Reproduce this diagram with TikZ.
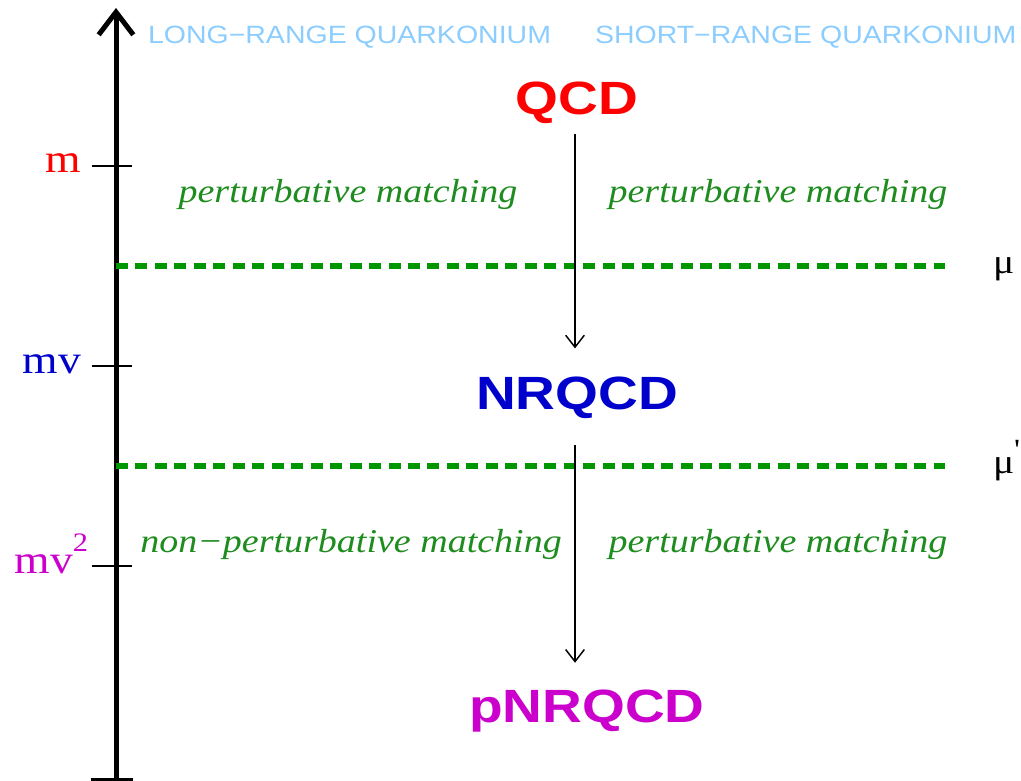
\documentclass[tikz,border=0pt]{standalone}
\usepackage{fontspec}
\usepackage{graphicx}
\setmainfont{Liberation Serif}
\newfontfamily\sansf{Liberation Sans}
\usetikzlibrary{arrows.meta}
\definecolor{hdr}{RGB}{140,205,255}
\definecolor{grn}{RGB}{0,150,0}
\definecolor{gtxt}{RGB}{30,140,30}
\definecolor{qred}{RGB}{255,0,0}
\definecolor{qblue}{RGB}{0,0,204}
\definecolor{qmag}{RGB}{204,0,204}
\newcommand{\wx}[1]{\scalebox{1.14}[1]{#1}}
\newcommand{\wy}[1]{\scalebox{1.18}[1]{#1}}
\begin{document}
\begin{tikzpicture}[x=0.75pt,y=-0.75pt,
  lbl/.style={inner sep=0pt, outer sep=0pt},
  header/.style={lbl, anchor=base west, text=hdr, font=\sansf\fontsize{18.75}{20}\selectfont},
  theory/.style={lbl, anchor=base, font=\sansf\bfseries\fontsize{35}{36}\selectfont},
  match/.style={lbl, anchor=base, text=gtxt, font=\itshape\fontsize{25}{27}\selectfont},
  scalelbl/.style={lbl, anchor=base east, font=\fontsize{30}{32}\selectfont},
  mulbl/.style={lbl, anchor=base west, font=\fontsize{26}{28}\selectfont},
  sepline/.style={grn, line width=4.5pt, dash pattern=on 9pt off 5.6pt},
  tickline/.style={line width=1.5pt},
  flow/.style={line width=1.1pt, -{Straight Barb[length=9pt,width=14pt]}}
]
\useasboundingbox (0,0) rectangle (1021,781);
% axis
\coordinate (axbot) at (116,779);
\coordinate (axtop) at (116,8);
\draw[line width=3.75pt, -{Straight Barb[length=17pt,width=26pt]}] (axbot) -- (axtop);
\draw[line width=2.25pt] (axbot) ++(-25,0) -- ++(42,0);
% ticks
\coordinate (t1) at (116,166);
\coordinate (t2) at (116,366);
\coordinate (t3) at (116,566);
\draw[tickline] (t1) ++(-24,0) -- ++(40,0);
\draw[tickline] (t2) ++(-24,0) -- ++(40,0);
\draw[tickline] (t3) ++(-24,0) -- ++(40,0);
% scale labels
\node[scalelbl, text=qred] (lm) at (81,173) {\wx{m}};
\node[scalelbl, text=qblue] (lmv) at (81,373) {\wx{mv}};
\node[scalelbl, text=qmag] (lmv2) at (88,573) {\wx{mv\raisebox{0.55em}{\fontsize{20}{20}\selectfont 2}}};
% headers
\node[header] (lr) at (148,44) {\wx{LONG−RANGE QUARKONIUM}};
\node[header] (sr) at (595,44) {\wx{SHORT−RANGE QUARKONIUM}};
% dashed separators
\coordinate (d1s) at (116,266);
\coordinate (d1e) at (945,266);
\coordinate (d2s) at (116,466);
\coordinate (d2e) at (945,466);
\draw[sepline] (d1s) -- (d1e);
\draw[sepline] (d2s) -- (d2e);
\node[mulbl] (mu) at (993,273) {\wx{μ}};
\node[mulbl] (mup) at (993,473) {\wx{μ\raisebox{0.38em}{\fontsize{22}{22}\selectfont\textquotesingle}}};
% theories
\node[theory, text=qred] (qcd) at (577,115) {\wy{QCD}};
\node[theory, text=qblue] (nrqcd) at (577,409) {\wy{NRQCD}};
\node[theory, text=qmag] (pnrqcd) at (587,722) {\wy{pNRQCD}};
% matching labels
\node[match] (pm1) at (348,203) {\wx{perturbative matching}};
\node[match] (pm2) at (778,203) {\wx{perturbative matching}};
\node[match] (npm) at (351,552) {\wx{non−perturbative matching}};
\node[match] (pm3) at (778,552) {\wx{perturbative matching}};
% flow arrows
\draw[flow, shorten <=7pt, shorten >=21pt] ([xshift=-1.5pt]qcd.south) -- ([xshift=-1.5pt]qcd.south |- nrqcd.north);
\draw[flow, shorten <=20pt, shorten >=20pt] ([xshift=-1.5pt]nrqcd.south) -- ([xshift=-1.5pt]nrqcd.south |- pnrqcd.north);
\end{tikzpicture}
\end{document}
